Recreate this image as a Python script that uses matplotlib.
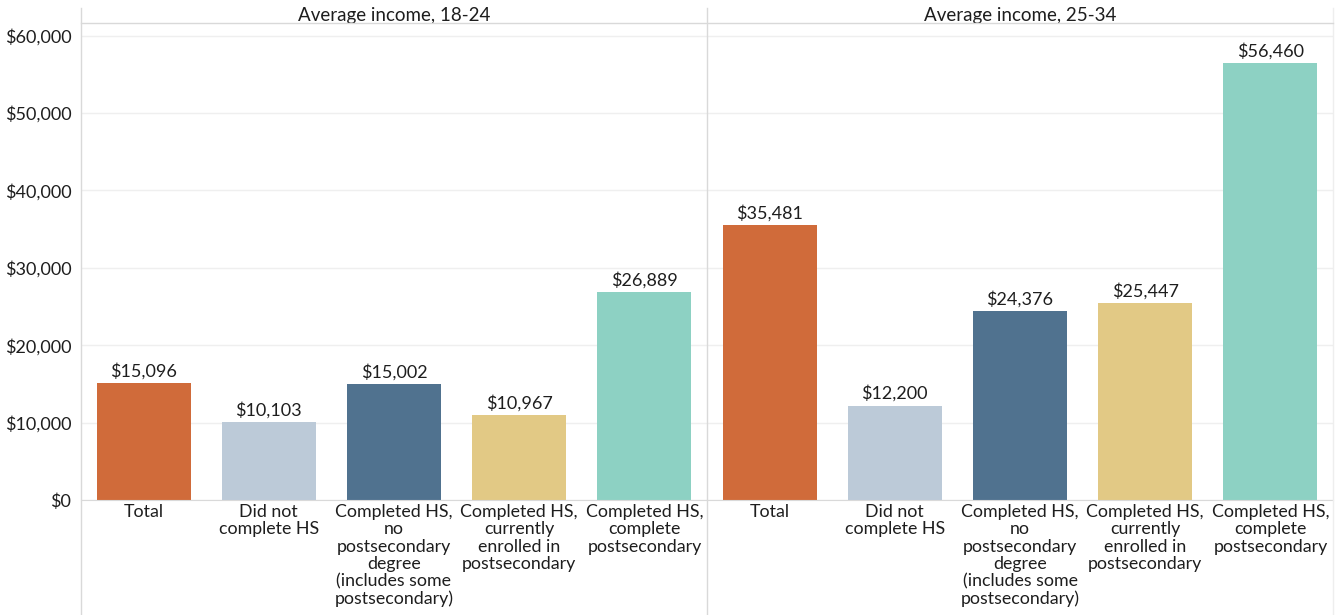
import matplotlib.pyplot as plt
from matplotlib.lines import Line2D
from matplotlib.ticker import FuncFormatter

plt.rcParams['font.family'] = ['Lato', 'DejaVu Sans']

# Data
categories = [
    'Total',
    'Did not\ncomplete HS',
    'Completed HS,\nno\npostsecondary\ndegree\n(includes some\npostsecondary)',
    'Completed HS,\ncurrently\nenrolled in\npostsecondary',
    'Completed HS,\ncomplete\npostsecondary',
]
panel_titles = ['Average income, 18-24', 'Average income, 25-34']
income_18_24 = [15096, 10103, 15002, 10967, 26889]
income_25_34 = [35481, 12200, 24376, 25447, 56460]
colors = ['#D06B3A', '#BCCAD8', '#50728F', '#E2C985', '#8DD1C3']

W, H = 1338, 615
fig = plt.figure(figsize=(W / 100, H / 100), dpi=100)

left, mid, right = 81, 707, 1333
y_top, y_zero = 24, 500
bottom_frac = (H - y_zero) / H
height_frac = (y_zero - y_top) / H

grid_color = '#EFEFEF'
line_color = '#D9D9D9'
text_color = '#1E1E1E'

for i, (title, vals) in enumerate([(panel_titles[0], income_18_24),
                                   (panel_titles[1], income_25_34)]):
    x0 = left if i == 0 else mid
    ax = fig.add_axes([x0 / W, bottom_frac, (mid - left) / W, height_frac])
    xs = range(len(categories))
    bars = ax.bar(xs, vals, width=0.75, color=colors, zorder=2)
    for b, v in zip(bars, vals):
        ax.text(b.get_x() + b.get_width() / 2, v + 450, f'${v:,}',
                ha='center', va='bottom', fontsize=13, color=text_color)
    ax.set_xlim(-0.5, len(categories) - 0.5)
    ax.set_ylim(0, 61500)
    ax.set_yticks(range(0, 60001, 10000))
    ax.yaxis.set_major_formatter(FuncFormatter(lambda v, p: f'${int(v):,}'))
    ax.grid(axis='y', color=grid_color, linewidth=1, zorder=0)
    ax.set_xticks(list(xs))
    ax.set_xticklabels(categories, fontsize=12.8, color=text_color,
                       linespacing=1.1, va='top')
    ax.tick_params(axis='x', length=0, pad=3)
    ax.tick_params(axis='y', length=0, labelsize=13, labelcolor=text_color, pad=7)
    if i == 1:
        ax.tick_params(axis='y', labelleft=False)
    for s in ['top', 'right', 'left']:
        ax.spines[s].set_visible(False)
    ax.spines['bottom'].set_color(line_color)
    ax.text(0.5, (y_zero - 15) / (y_zero - y_top), title, transform=ax.transAxes,
            ha='center', va='center', fontsize=13.5, color=text_color)

# Frame lines of the panels
for xp in [left, mid]:
    fig.add_artist(Line2D([xp / W, xp / W], [0, 1 - 8 / H], color=line_color, lw=1))
fig.add_artist(Line2D([right / W, right / W], [0, 1 - 8 / H], color='#EEEEEE', lw=1))
fig.add_artist(Line2D([left / W, right / W], [1 - 23 / H, 1 - 23 / H], color=line_color, lw=1))

fig.savefig('out.png', dpi=100)
